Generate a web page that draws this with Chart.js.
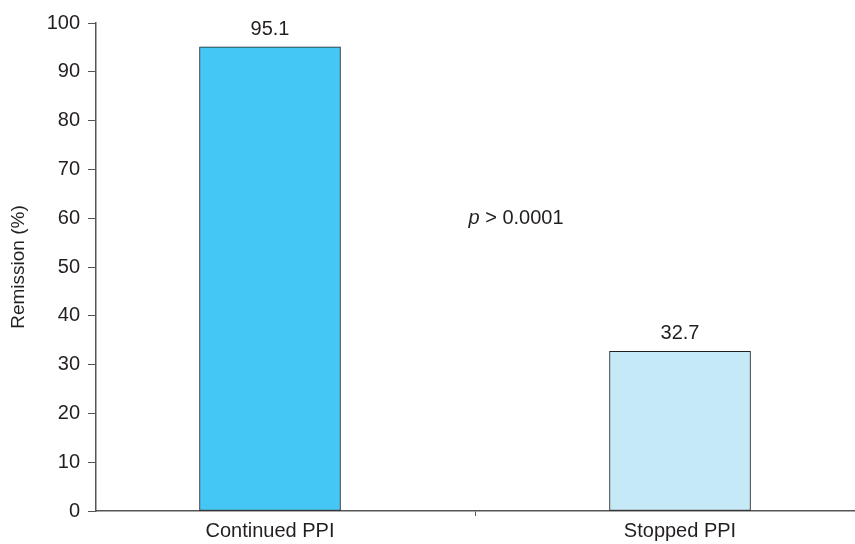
<!DOCTYPE html>
<html>
<head>
<meta charset="utf-8">
<script src="https://cdn.jsdelivr.net/npm/chart.js@4/dist/chart.umd.min.js"></script>
<style>
  html, body { margin: 0; padding: 0; background: #fff; }
  canvas { display: block; }
</style>
</head>
<body>
<canvas id="chart" width="855" height="544"></canvas>
<script>
const categories = ["Continued PPI", "Stopped PPI"];
const remission = [95.1, 32.7];
const barColors = ["#44c7f4", "#c6e9f8"];
const yTicks = [0, 10, 20, 30, 40, 50, 60, 70, 80, 90, 100];
const pNote = { x: 1.6, y: 60, prefix: "p", text: " > 0.0001" };

const FONT = "'Liberation Sans', Arial, Helvetica, sans-serif";
const INK = "#231f20";
const SIZE = 20;

// category i sits at x = i + 1 on a linear axis, so the gap tick sits at 1.5
const points = remission.map((v, i) => ({ x: i + 1, y: v }));

const valueLabels = {
  id: "valueLabels",
  afterDatasetsDraw(chart) {
    const ctx = chart.ctx;
    const meta = chart.getDatasetMeta(0);
    ctx.save();
    ctx.fillStyle = INK;
    ctx.font = SIZE + "px " + FONT;
    ctx.textAlign = "center";
    ctx.textBaseline = "alphabetic";
    meta.data.forEach((bar, i) => {
      ctx.fillText(remission[i].toFixed(1), bar.x, bar.y - 12);
    });

    // p value note
    const xs = chart.scales.x, ys = chart.scales.y;
    const px = xs.getPixelForValue(pNote.x);
    const py = ys.getPixelForValue(pNote.y);
    ctx.textBaseline = "middle";
    ctx.textAlign = "left";
    ctx.font = "italic " + SIZE + "px " + FONT;
    const w1 = ctx.measureText(pNote.prefix).width;
    ctx.font = SIZE + "px " + FONT;
    const w2 = ctx.measureText(pNote.text).width;
    const sx = px - (w1 + w2) / 2;
    ctx.font = "italic " + SIZE + "px " + FONT;
    ctx.fillText(pNote.prefix, sx, py);
    ctx.font = SIZE + "px " + FONT;
    ctx.fillText(pNote.text, sx + w1, py);
    ctx.restore();
  }
};

new Chart(document.getElementById("chart"), {
  type: "bar",
  data: {
    datasets: [{
      data: points,
      backgroundColor: barColors,
      borderColor: INK,
      borderWidth: 1,
      barThickness: 141,
      borderSkipped: false
    }]
  },
  options: {
    responsive: false,
    animation: false,
    layout: { padding: { top: 23, right: 0, left: 0, bottom: 0 } },
    plugins: {
      legend: { display: false },
      tooltip: { enabled: false }
    },
    scales: {
      x: {
        type: "linear",
        offset: false,
        min: 0.5756,
        max: 2.4268,
        afterBuildTicks: (scale) => {
          scale.ticks = [{ value: 1 }, { value: 1.5 }, { value: 2 }];
        },
        afterFit: (scale) => { scale.height = 33; },
        border: { color: "#555", width: 1.5 },
        grid: {
          offset: false,
          drawOnChartArea: false,
          drawTicks: true,
          tickLength: 5,
          tickColor: (c) => (c.tick && c.tick.value === 1.5 ? "#555" : "rgba(0,0,0,0)")
        },
        ticks: {
          autoSkip: false,
          maxRotation: 0,
          padding: 3,
          color: INK,
          font: { family: FONT, size: SIZE },
          callback: (v) => (Number.isInteger(v) ? categories[v - 1] : "")
        }
      },
      y: {
        min: 0,
        max: 100,
        afterBuildTicks: (scale) => {
          scale.ticks = yTicks.map((v) => ({ value: v }));
        },
        afterFit: (scale) => { scale.width = 96; },
        border: { color: "#555", width: 1.5 },
        grid: {
          drawOnChartArea: false,
          drawTicks: true,
          tickLength: 8,
          tickColor: "#555"
        },
        ticks: {
          padding: 8,
          color: INK,
          font: { family: FONT, size: SIZE }
        },
        title: {
          display: true,
          text: "Remission (%)",
          color: INK,
          font: { family: FONT, size: 19 },
          padding: { top: 7, bottom: 0 }
        }
      }
    }
  },
  plugins: [valueLabels]
});
</script>
</body>
</html>
